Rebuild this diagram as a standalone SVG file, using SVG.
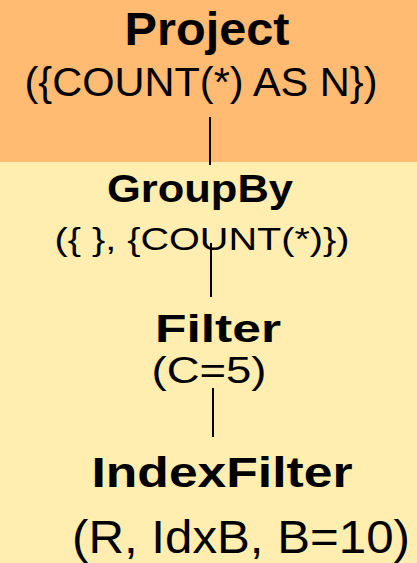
<svg xmlns="http://www.w3.org/2000/svg" width="417" height="563" viewBox="0 0 417 563">
  <style>
    .op { font-family: "Liberation Sans", "DejaVu Sans", sans-serif; font-weight: bold; fill: #000; text-anchor: middle; }
    .arg { font-family: "Liberation Sans", "DejaVu Sans", sans-serif; fill: #000; text-anchor: middle; }
    .edge { stroke: #000; stroke-width: 2; fill: none; }
  </style>
  <!-- background bands -->
  <rect x="0" y="0" width="417" height="563" fill="#FFEEAF"/>
  <rect x="0" y="0" width="417" height="162" fill="#FFBB72"/>

  <g id="connectors">
    <line class="edge" x1="210" y1="117" x2="210" y2="165"/>
    <line class="edge" x1="211" y1="243" x2="211" y2="297"/>
    <line class="edge" x1="213" y1="388" x2="213" y2="437"/>
  </g>

  <g id="project">
    <text class="op" x="207" y="45" font-size="46" textLength="165" lengthAdjust="spacingAndGlyphs">Project</text>
    <text class="arg" x="201" y="96" font-size="41" textLength="353" lengthAdjust="spacingAndGlyphs">({COUNT(*) AS N})</text>
  </g>

  <g id="groupby">
    <text class="op" x="200" y="202" font-size="38" textLength="186" lengthAdjust="spacingAndGlyphs">GroupBy</text>
    <text class="arg" x="202" y="250" font-size="31" textLength="295" lengthAdjust="spacingAndGlyphs">({ }, {COUNT(*)})</text>
  </g>

  <g id="filter">
    <text class="op" x="218" y="342" font-size="38" textLength="126" lengthAdjust="spacingAndGlyphs">Filter</text>
    <text class="arg" x="209" y="383" font-size="37" textLength="115" lengthAdjust="spacingAndGlyphs">(C=5)</text>
  </g>

  <g id="indexfilter">
    <text class="op" x="222" y="487" font-size="42" textLength="261" lengthAdjust="spacingAndGlyphs">IndexFilter</text>
    <text class="arg" x="241" y="553" font-size="46" textLength="338" lengthAdjust="spacingAndGlyphs">(R, IdxB, B=10)</text>
  </g>
</svg>
